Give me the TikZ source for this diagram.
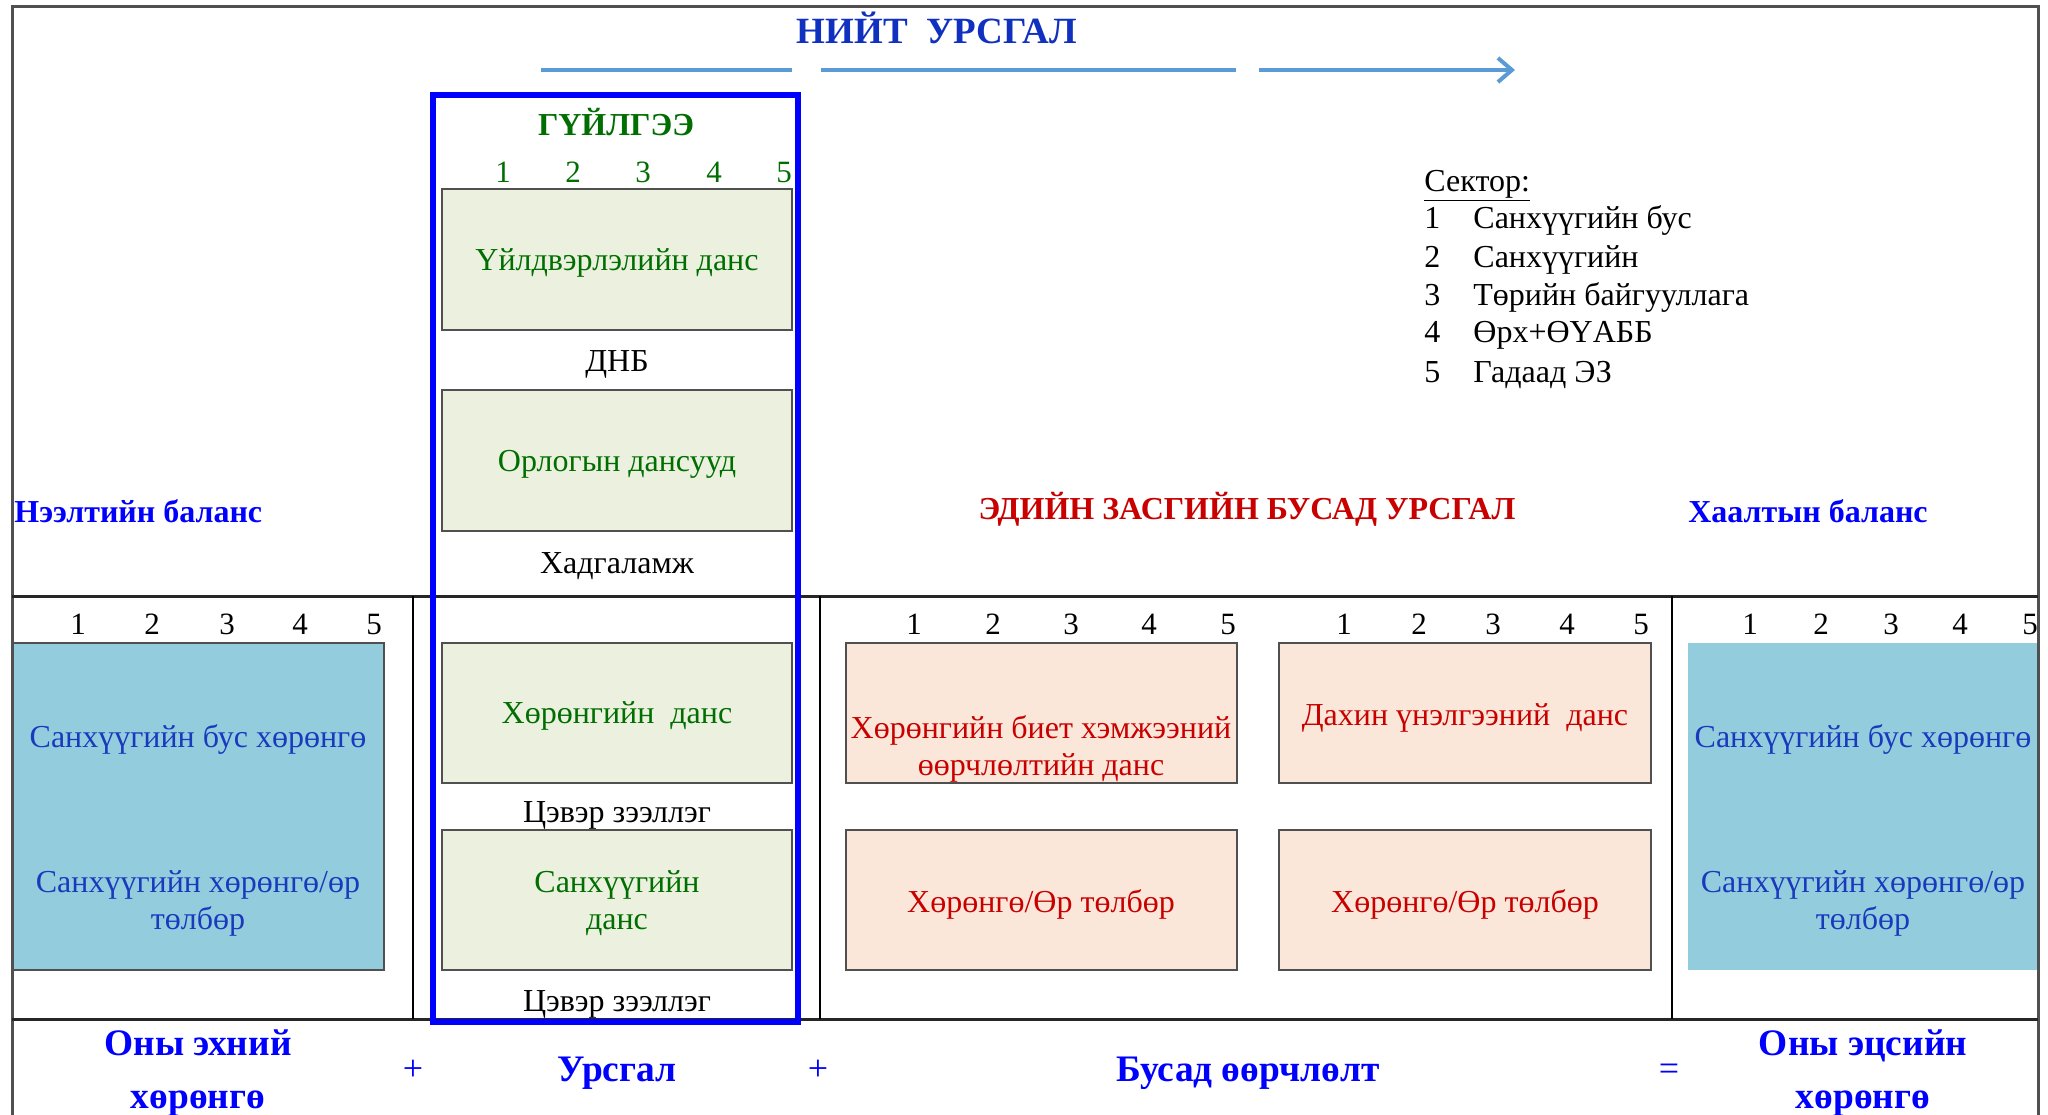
\documentclass[tikz,border=0pt]{standalone}
\usepackage{fontspec}
\setmainfont{Liberation Serif}
\usetikzlibrary{arrows.meta}
\definecolor{titleblue}{RGB}{16,48,192}
\definecolor{arrowblue}{RGB}{91,155,213}
\definecolor{boxblue}{RGB}{147,204,220}
\definecolor{txtblue}{RGB}{26,58,190}
\definecolor{greenfill}{RGB}{235,241,222}
\definecolor{greentxt}{RGB}{0,110,0}
\definecolor{pinkfill}{RGB}{251,231,217}
\definecolor{redtxt}{RGB}{200,0,0}
\definecolor{framegrey}{RGB}{80,80,80}
\tikzset{
  lbl/.style={inner sep=0pt, anchor=base, font=\fontsize{16}{19}\selectfont},
  digit/.style={lbl, font=\fontsize{15.5}{18}\selectfont},
  head/.style={inner sep=0pt, anchor=base, font=\fontsize{16}{19}\selectfont\bfseries},
  eqlbl/.style={inner sep=0pt, anchor=base, text=blue, font=\fontsize{18.7}{22}\selectfont\bfseries},
  gbox/.style={draw=framegrey, line width=1pt, fill=greenfill},
  pbox/.style={draw=framegrey, line width=1pt, fill=pinkfill},
  bbox/.style={draw=framegrey, line width=1pt, fill=boxblue},
  rule/.style={draw=black!85, line width=1.5pt},
  vrule/.style={draw=black, line width=1pt},
  flow/.style={draw=arrowblue, line width=2pt},
}
\begin{document}
\begin{tikzpicture}[x=0.5pt,y=-0.5pt]
\useasboundingbox (0,0) rectangle (2048,1114);
\fill[white] (0,0) rectangle (2048,1114);
% frame
\draw[framegrey, line width=1.5pt] (12,1120) -- (12,6) -- (2038,6) -- (2038,1120);
% horizontal rules
\draw[rule] (12,596) -- (2038,596);
\draw[rule] (12,1019) -- (2038,1019);
\draw[vrule] (413,596) -- (413,1019);
\draw[vrule] (820,596) -- (820,1019);
\draw[vrule] (1672,596) -- (1672,1019);
% title and arrow
\node[head, text=titleblue, font=\fontsize{18.5}{22}\selectfont\bfseries] (title) at (937,43) {НИЙТ\ \ УРСГАЛ};
\coordinate (a1) at (541,70); \coordinate (a2) at (792,70);
\coordinate (a3) at (821,70); \coordinate (a4) at (1236,70);
\coordinate (a5) at (1259,70); \coordinate (a6) at (1515,70);
\draw[flow] (a1) -- (a2);
\draw[flow] (a3) -- (a4);
\draw[flow, -{Straight Barb[length=7pt,width=12pt,line width=2pt]}] (a5) -- (a6);
% transactions column boxes
\draw[gbox] (442,189) rectangle (792,330);
\draw[gbox] (442,390) rectangle (792,531);
\draw[gbox] (442,643) rectangle (792,783);
\draw[gbox] (442,830) rectangle (792,970);
\node[lbl, text=greentxt] (prod) at (617,270) {Үйлдвэрлэлийн данс};
\node[lbl] (gdp) at (617,371) {ДНБ};
\node[lbl, text=greentxt] (inc) at (617,471) {Орлогын дансууд};
\node[lbl] (sav) at (617,573) {Хадгаламж};
\node[lbl, text=greentxt] (cap) at (617,723) {Хөрөнгийн\ \ данс};
\node[lbl] (nl1) at (617,822) {Цэвэр зээллэг};
\node[lbl, text=greentxt] (fin1) at (617,892) {Санхүүгийн};
\node[lbl, text=greentxt] (fin2) at (617,929) {данс};
\node[lbl] (nl2) at (617,1011) {Цэвэр зээллэг};
\node[head, text=greentxt] (tr) at (616,135) {ГҮЙЛГЭЭ};
\foreach \x [count=\i] in {503,573,643,714,784}
  \node[digit, text=greentxt] (gd\i) at (\x,182) {\i};
% blue transaction frame
\draw[blue, line width=3pt] (433,95) rectangle (798,1022);
% section headings
\node[head, text=blue, anchor=base west] (open) at (14,522) {Нээлтийн баланс};
\node[head, text=redtxt] (oth) at (1247,519) {ЭДИЙН ЗАСГИЙН БУСАД УРСГАЛ};
\node[head, text=blue] (close) at (1808,522) {Хаалтын баланс};
% sector legend
\node[lbl, anchor=base west] (sect) at (1424,191) {\underline{Сектор:}};
\foreach \y/\t [count=\i] in {228/Санхүүгийн бус, 267/Санхүүгийн, 305/Төрийн байгууллага, 342/Өрх+ӨҮАББ, 382/Гадаад ЭЗ}{
  \node[lbl, anchor=base west] (sn\i) at (1424,\y) {\i};
  \node[lbl, anchor=base west] (st\i) at (1473,\y) {\t};
}
% digits rows
\foreach \x [count=\i] in {78,152,227,300,374}
  \node[digit] (ld\i) at (\x,634) {\i};
\foreach \x [count=\i] in {914,993,1071,1149,1228}
  \node[digit] (md\i) at (\x,634) {\i};
\foreach \x [count=\i] in {1344,1419,1493,1567,1641}
  \node[digit] (nd\i) at (\x,634) {\i};
\foreach \x [count=\i] in {1750,1821,1891,1960,2030}
  \node[digit] (rd\i) at (\x,634) {\i};
% opening balance box
\draw[bbox] (13,643) rectangle (384,970);
\node[lbl, text=txtblue] (lb1) at (198,747) {Санхүүгийн бус хөрөнгө};
\node[lbl, text=txtblue] (lb2) at (198,892) {Санхүүгийн хөрөнгө/өр};
\node[lbl, text=txtblue] (lb3) at (198,929) {төлбөр};
% closing balance box
\fill[boxblue] (1688,643) rectangle (2037,970);
\node[lbl, text=txtblue] (rb1) at (1863,747) {Санхүүгийн бус хөрөнгө};
\node[lbl, text=txtblue] (rb2) at (1863,892) {Санхүүгийн хөрөнгө/өр};
\node[lbl, text=txtblue] (rb3) at (1863,929) {төлбөр};
% other flows boxes
\draw[pbox] (846,643) rectangle (1237,783);
\draw[pbox] (1279,643) rectangle (1651,783);
\draw[pbox] (846,830) rectangle (1237,970);
\draw[pbox] (1279,830) rectangle (1651,970);
\node[lbl, text=redtxt] (ov1) at (1041,738) {Хөрөнгийн биет хэмжээний};
\node[lbl, text=redtxt] (ov2) at (1041,775) {өөрчлөлтийн данс};
\node[lbl, text=redtxt] (rev) at (1465,725) {Дахин үнэлгээний\ \ данс};
\node[lbl, text=redtxt] (al1) at (1041,912) {Хөрөнгө/Өр төлбөр};
\node[lbl, text=redtxt] (al2) at (1465,912) {Хөрөнгө/Өр төлбөр};
% bottom equation
\node[eqlbl] (b1) at (198,1055) {Оны эхний};
\node[eqlbl] (b2) at (198,1108) {хөрөнгө};
\node[eqlbl, font=\fontsize{18}{22}\selectfont] (p1) at (413,1080) {+};
\node[eqlbl] (b3) at (617,1081) {Урсгал};
\node[eqlbl, font=\fontsize{18}{22}\selectfont] (p2) at (818,1080) {+};
\node[eqlbl] (b4) at (1248,1081) {Бусад өөрчлөлт};
\node[eqlbl, font=\fontsize{18}{22}\selectfont] (eq) at (1669,1080) {=};
\node[eqlbl] (b5) at (1863,1055) {Оны эцсийн};
\node[eqlbl] (b6) at (1863,1108) {хөрөнгө};
\end{tikzpicture}
\end{document}
